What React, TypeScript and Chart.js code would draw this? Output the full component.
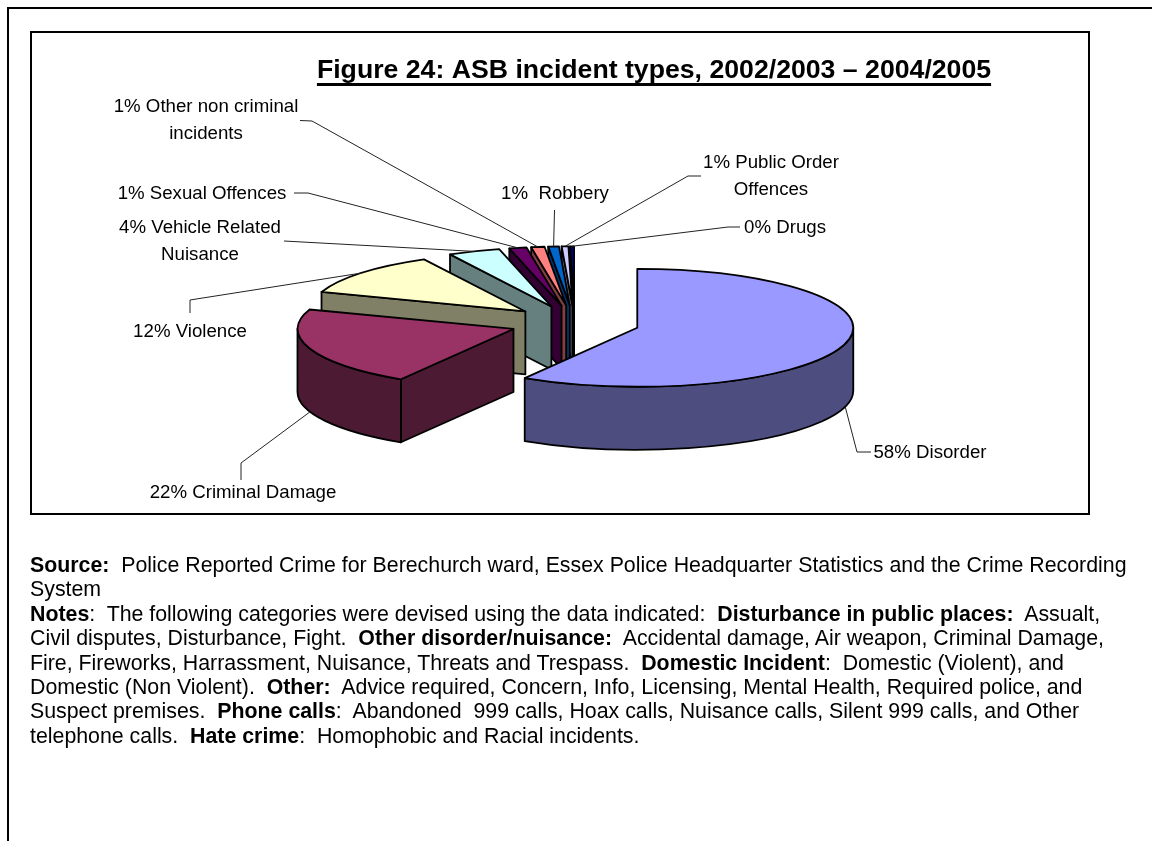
import React, { useEffect, useRef } from "react";
import { Chart, registerables } from "chart.js";

Chart.register(...registerables);

// ---- data ----
const categories = [
  "Disorder",
  "Criminal Damage",
  "Violence",
  "Vehicle Related Nuisance",
  "Sexual Offences",
  "Other non criminal incidents",
  "Robbery",
  "Public Order Offences",
  "Drugs",
];
const shares = [58.9, 21.7, 11.9, 3.9, 1.3, 1.0, 0.8, 0.5, 0.3];
const sliceColors = ["#9999FF", "#993366", "#FFFFCC", "#CCFFFF", "#660066", "#FF8080", "#0066CC", "#CCCCFF", "#000080"];
const wallColors = ["#4D4D80", "#4D1A33", "#808066", "#668080", "#330033", "#804040", "#003366", "#666680", "#000040"];
const labelLines = [
  ["58% Disorder"],
  ["22% Criminal Damage"],
  ["12% Violence"],
  ["4% Vehicle Related", "Nuisance"],
  ["1% Sexual Offences"],
  ["1% Other non criminal", "incidents"],
  ["1%  Robbery"],
  ["1% Public Order", "Offences"],
  ["0% Drugs"],
];
const chartTitle = "Figure 24: ASB incident types, 2002/2003 \u2013 2004/2005";

// ---- layout (page pixels) ----
const PIE = { x: 574.7, y: 323, radius: 216, squash: 0.273, explode: 65, depth: 63 };
// text centre x, first line middle y, elbow points of the leader (from label to slice)
const labelPlaces: { x: number; y: number; elbow: number[][]; wall: boolean }[] = [
  { x: 930, y: 451, elbow: [[871, 452], [857, 452]], wall: true },
  { x: 243, y: 491, elbow: [[241, 480], [241, 463]], wall: true },
  { x: 190, y: 330, elbow: [[190, 313], [190, 300]], wall: false },
  { x: 200, y: 226, elbow: [[284, 241]], wall: false },
  { x: 202, y: 192, elbow: [[294, 193], [308, 193]], wall: false },
  { x: 206, y: 105, elbow: [[300, 120.5], [312, 121]], wall: false },
  { x: 555, y: 192, elbow: [[554.5, 210]], wall: false },
  { x: 771, y: 161, elbow: [[701, 176], [688, 176]], wall: false },
  { x: 785, y: 226, elbow: [[740, 227], [728, 227]], wall: false },
];
const LABEL_FONT = "18.67px 'Liberation Sans', Arial, sans-serif";
const LINE_GAP = 27;
const TEXT_NUDGE = 1.5;

const pie3d = {
  id: "pie3d",
  beforeDatasetDraw(chart: any) {
    const ctx = chart.ctx as CanvasRenderingContext2D;
    const arcs = chart.getDatasetMeta(0).data as any[];
    const k = PIE.squash;
    const geo = arcs.map((el) => {
      const { startAngle: a, endAngle: b } = el.getProps(["startAngle", "endAngle"], true);
      const mid = (a + b) / 2;
      return { el, a, b, mid, cx: PIE.x + Math.cos(mid) * PIE.explode, cy: PIE.y + Math.sin(mid) * PIE.explode * k };
    });
    // painter's order: small back slices first, right to left, Disorder last
    const order = geo.map((_, i) => i).slice(1).reverse().concat(0);
    ctx.save();
    ctx.lineJoin = "round";
    ctx.strokeStyle = "#000";
    ctx.lineWidth = 1.8;
    for (const i of order) {
      const g = geo[i];
      const r = PIE.radius;
      const ry = r * k;
      const d = PIE.depth;
      const radial = (ang: number) => {
        ctx.beginPath();
        ctx.moveTo(g.cx, g.cy);
        ctx.lineTo(g.cx + Math.cos(ang) * r, g.cy + Math.sin(ang) * ry);
        ctx.lineTo(g.cx + Math.cos(ang) * r, g.cy + Math.sin(ang) * ry + d);
        ctx.lineTo(g.cx, g.cy + d);
        ctx.closePath();
        ctx.fillStyle = wallColors[i];
        ctx.fill();
        ctx.stroke();
      };
      // only the flat walls that face the viewer
      if (Math.sin(g.a - Math.PI / 2) > 0.001) radial(g.a);
      if (Math.sin(g.b + Math.PI / 2) > 0.001) radial(g.b);
      const from = Math.max(g.a, 0);
      const to = Math.min(g.b, Math.PI);
      if (to > from) {
        ctx.beginPath();
        ctx.ellipse(g.cx, g.cy, r, ry, 0, from, to);
        ctx.ellipse(g.cx, g.cy + d, r, ry, 0, to, from, true);
        ctx.closePath();
        ctx.fillStyle = wallColors[i];
        ctx.fill();
        ctx.stroke();
      }
      // top face: the library's own arc, flattened into place
      ctx.save();
      ctx.translate(g.cx, g.cy);
      ctx.scale(1, k);
      ctx.translate(-g.el.x, -g.el.y);
      g.el.draw(ctx);
      ctx.restore();
      ctx.beginPath();
      ctx.moveTo(g.cx, g.cy);
      ctx.ellipse(g.cx, g.cy, r, ry, 0, g.a, g.b);
      ctx.closePath();
      ctx.stroke();
    }
    // leaders and labels
    ctx.lineWidth = 1;
    ctx.strokeStyle = "#222";
    ctx.fillStyle = "#000";
    ctx.font = LABEL_FONT;
    ctx.textAlign = "center";
    ctx.textBaseline = "middle";
    geo.forEach((g, i) => {
      const p = labelPlaces[i];
      ctx.beginPath();
      p.elbow.forEach(([x, y], n) => (n ? ctx.lineTo(x, y) : ctx.moveTo(x, y)));
      ctx.lineTo(
        g.cx + Math.cos(g.mid) * PIE.radius,
        g.cy + Math.sin(g.mid) * PIE.radius * k + (p.wall ? PIE.depth : 0)
      );
      ctx.stroke();
      labelLines[i].forEach((t, n) => ctx.fillText(t, p.x, p.y + TEXT_NUDGE + n * LINE_GAP));
    });
    // title underline
    const tb = chart.titleBlock;
    ctx.font = "bold 26.67px 'Liberation Sans', Arial, sans-serif";
    const w = ctx.measureText(chartTitle).width;
    const tx = (tb.left + tb.right) / 2;
    ctx.fillRect(tx - w / 2, tb.top + 28, w, 3);
    ctx.restore();
    return false;
  },
};

const bodyLines: [string, boolean][][] = [
  [["Source:", true], ["  Police Reported Crime for Berechurch ward, Essex Police Headquarter Statistics and the Crime Recording", false]],
  [["System", false]],
  [["Notes", true], [":  The following categories were devised using the data indicated:  ", false], ["Disturbance in public places:", true], ["  Assualt,", false]],
  [["Civil disputes, Disturbance, Fight.  ", false], ["Other disorder/nuisance:", true], ["  Accidental damage, Air weapon, Criminal Damage,", false]],
  [["Fire, Fireworks, Harrassment, Nuisance, Threats and Trespass.  ", false], ["Domestic Incident", true], [":  Domestic (Violent), and", false]],
  [["Domestic (Non Violent).  ", false], ["Other:", true], ["  Advice required, Concern, Info, Licensing, Mental Health, Required police, and", false]],
  [["Suspect premises.  ", false], ["Phone calls", true], [":  Abandoned  999 calls, Hoax calls, Nuisance calls, Silent 999 calls, and Other", false]],
  [["telephone calls.  ", false], ["Hate crime", true], [":  Homophobic and Racial incidents.", false]],
];

export default function App() {
  const ref = useRef<HTMLCanvasElement>(null);
  useEffect(() => {
    const chart = new Chart(ref.current!, {
      type: "pie",
      data: {
        labels: categories,
        datasets: [{ data: shares, backgroundColor: sliceColors, borderWidth: 0 }],
      },
      options: {
        responsive: false,
        animation: false,
        events: [],
        radius: PIE.radius,
        layout: { padding: { left: 156, top: 55 } },
        plugins: {
          legend: { display: false },
          tooltip: { enabled: false },
          title: {
            display: true,
            text: chartTitle,
            color: "#000",
            padding: 0,
            font: { family: "'Liberation Sans', Arial, sans-serif", size: 26.67, weight: "bold", lineHeight: 1.2 },
          },
        },
      } as any,
      plugins: [pie3d as any],
    });
    return () => chart.destroy();
  }, []);

  const line = (s: any) => ({ position: "absolute", background: "#000", ...s }) as React.CSSProperties;
  return (
    <div style={{ position: "absolute", left: 0, top: 0, width: 1152, height: 841, overflow: "hidden", background: "#fff" }}>
      <canvas ref={ref} width={1152} height={841} style={{ position: "absolute", left: 0, top: 0, display: "block" }} />
      <div style={line({ left: 7, top: 7, width: 1145, height: 2 })} />
      <div style={line({ left: 7, top: 7, width: 2, height: 834 })} />
      <div style={line({ left: 30, top: 31, width: 1059, height: 2 })} />
      <div style={line({ left: 30, top: 31, width: 2, height: 484 })} />
      <div style={line({ left: 30, top: 513, width: 1059, height: 2 })} />
      <div style={line({ left: 1088, top: 31, width: 2, height: 484 })} />
      <div
        style={{
          position: "absolute",
          left: 30,
          top: 553,
          fontFamily: "'Liberation Sans', Arial, sans-serif",
          fontSize: 21.33,
          lineHeight: "24.4px",
          color: "#000",
          whiteSpace: "pre",
        }}
      >
        {bodyLines.map((parts, i) => (
          <div key={i}>
            {parts.map(([t, b], j) => (
              <span key={j} style={{ fontWeight: b ? "bold" : "normal" }}>
                {t}
              </span>
            ))}
          </div>
        ))}
      </div>
    </div>
  );
}
